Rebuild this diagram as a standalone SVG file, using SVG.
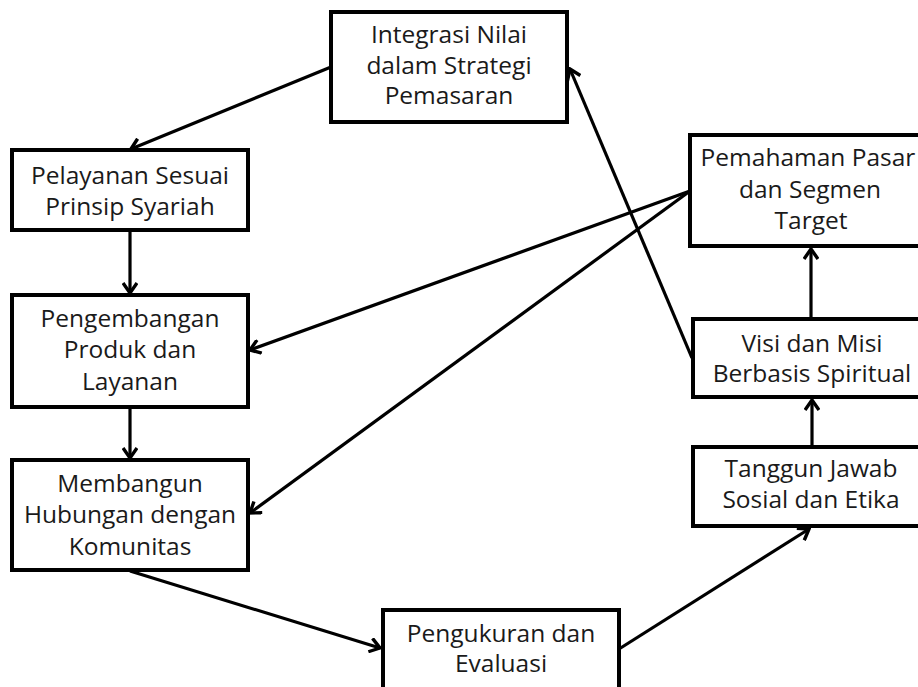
<svg xmlns="http://www.w3.org/2000/svg" width="918" height="687" viewBox="0 0 918 687">
<style>
.box{fill:#fff;stroke:#000;stroke-width:4}
.t{font-family:"Open Sans","Noto Sans",sans-serif;font-size:24.5px;fill:#1a1a1a;text-anchor:middle}
.c{stroke:#000;stroke-width:3.2;fill:none;marker-end:url(#arr)}
</style>
<defs>
<marker id="arr" viewBox="-13 -8 15 16" markerWidth="15" markerHeight="16" refX="0" refY="0" orient="auto" markerUnits="userSpaceOnUse">
<path d="M-10,-7 L0,0 L-10,7" fill="none" stroke="#000" stroke-width="3.4" stroke-linejoin="miter"/>
</marker>
</defs>
<rect width="918" height="687" fill="#fff"/>
<g id="connectors">
<line class="c" x1="331" y1="67" x2="131" y2="149"/>
<line class="c" x1="130" y1="231" x2="130" y2="293"/>
<line class="c" x1="130" y1="408" x2="130" y2="458"/>
<line class="c" x1="130" y1="571" x2="380" y2="648"/>
<line class="c" x1="619" y1="649" x2="809" y2="529"/>
<line class="c" x1="812" y1="446" x2="812" y2="400"/>
<line class="c" x1="811" y1="318" x2="811" y2="249"/>
<line class="c" x1="692" y1="358" x2="570" y2="69"/>
<line class="c" x1="690" y1="191" x2="250" y2="350"/>
<line class="c" x1="690" y1="191" x2="250" y2="513"/>
</g>
<g id="integrasi">
<rect class="box" x="331" y="12" width="236" height="110"/>
<text class="t" x="449" y="43">Integrasi Nilai</text>
<text class="t" x="449" y="74">dalam Strategi</text>
<text class="t" x="449" y="104">Pemasaran</text>
</g>
<g id="pelayanan">
<rect class="box" x="12" y="150" width="236" height="80"/>
<text class="t" x="130" y="184">Pelayanan Sesuai</text>
<text class="t" x="130" y="215">Prinsip Syariah</text>
</g>
<g id="pengembangan">
<rect class="box" x="12" y="295" width="236" height="112"/>
<text class="t" x="130" y="327">Pengembangan</text>
<text class="t" x="130" y="358">Produk dan</text>
<text class="t" x="130" y="390">Layanan</text>
</g>
<g id="membangun">
<rect class="box" x="12" y="460" width="236" height="110"/>
<text class="t" x="130" y="492">Membangun</text>
<text class="t" x="130" y="523">Hubungan dengan</text>
<text class="t" x="130" y="555">Komunitas</text>
</g>
<g id="pengukuran">
<rect class="box" x="383" y="610" width="236" height="100"/>
<text class="t" x="501" y="642">Pengukuran dan</text>
<text class="t" x="501" y="672">Evaluasi</text>
</g>
<g id="tanggun">
<rect class="box" x="693" y="447" width="240" height="79"/>
<text class="t" x="811" y="477">Tanggun Jawab</text>
<text class="t" x="811" y="508">Sosial dan Etika</text>
</g>
<g id="visi">
<rect class="box" x="693" y="319" width="240" height="78"/>
<text class="t" x="812" y="352">Visi dan Misi</text>
<text class="t" x="812" y="382">Berbasis Spiritual</text>
</g>
<g id="pemahaman">
<rect class="box" x="690" y="135" width="244" height="111"/>
<text class="t" x="808" y="166">Pemahaman Pasar</text>
<text class="t" x="810" y="198">dan Segmen</text>
<text class="t" x="811" y="229">Target</text>
</g>
</svg>
